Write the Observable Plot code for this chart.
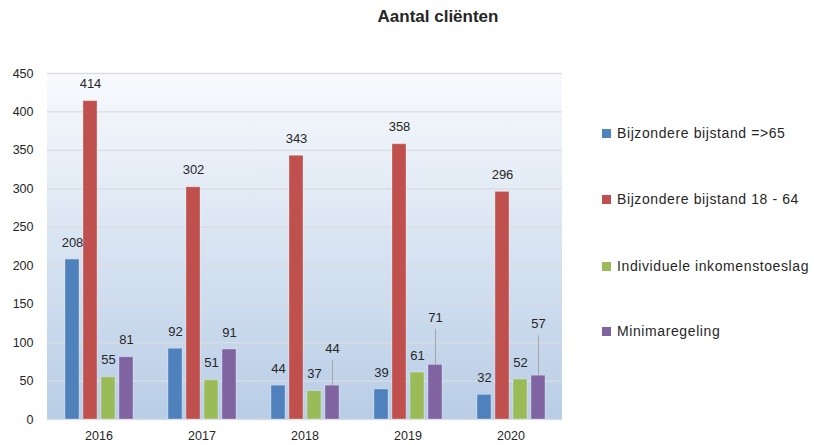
<!DOCTYPE html>
<html>
<head>
<meta charset="utf-8">
<script src="https://cdn.jsdelivr.net/npm/d3@7"></script>
<script src="https://cdn.jsdelivr.net/npm/@observablehq/plot@0.6"></script>
<style>
  body { margin: 0; background: #fff; font-family: "Liberation Sans", Arial, sans-serif; }
  #wrap { position: relative; width: 814px; height: 445px; }
  #title { position: absolute; left: 318px; top: 7px; width: 240px; text-align: center;
           font-weight: bold; font-size: 17px; color: #262626; }
  .legend-item { position: absolute; left: 602px; font-size: 14px; letter-spacing: 0.6px;
                 color: #262626; line-height: 16px; white-space: nowrap; }
  .legend-item span { display: inline-block; width: 9px; height: 9px; margin-right: 6px;
                      vertical-align: 0px; }
  svg { position: absolute; left: 0; top: 0; }
</style>
</head>
<body>
<div id="wrap">
  <div id="title">Aantal cliënten</div>
</div>
<script>
// Aantal cliënten per regeling, 2016–2020
const years = ["2016", "2017", "2018", "2019", "2020"];
const series = [
  "Bijzondere bijstand =>65",
  "Bijzondere bijstand 18 - 64",
  "Individuele inkomenstoeslag",
  "Minimaregeling"
];
const colors = ["#4f81bd", "#c0504d", "#9bbb59", "#8064a2"];

const bijstand65 = [208, 92, 44, 39, 32];
const bijstand18to64 = [414, 302, 343, 358, 296];
const inkomenstoeslag = [55, 51, 37, 61, 52];
const minimaregeling = [81, 91, 44, 71, 57];

const yTicks = [0, 50, 100, 150, 200, 250, 300, 350, 400, 450];

const seriesValues = [bijstand65, bijstand18to64, inkomenstoeslag, minimaregeling];

// Labels that sit higher with a leader line (extra lift in value units)
const labelLift = new Map([
  ["2018|Minimaregeling", 26],
  ["2019|Minimaregeling", 39.5],
  ["2020|Minimaregeling", 45]
]);

const rows = years.flatMap((year, i) =>
  series.map((s, j) => ({
    year,
    series: s,
    value: seriesValues[j][i],
    lift: labelLift.get(`${year}|${s}`) ?? 0
  }))
);
const liftedRows = rows.filter(d => d.lift > 0);

const plot = Plot.plot({
  width: 814,
  height: 445,
  marginLeft: 47,
  marginRight: 252,
  marginTop: 73,
  marginBottom: 26,
  style: {
    fontFamily: '"Liberation Sans", Arial, sans-serif',
    fontSize: "12.5px",
    color: "#262626",
    background: "transparent",
    overflow: "visible"
  },
  fx: { domain: years, padding: 0, label: null, tickSize: 0, tickPadding: 12 },
  x: { domain: series, axis: null, paddingInner: 0.25, paddingOuter: 0.885 },
  y: { domain: [0, 450], ticks: yTicks, tickSize: 0, tickPadding: 14, label: null },
  color: { domain: series, range: colors },
  marks: [
    Plot.ruleY(yTicks, { stroke: "#d9dde3", strokeWidth: 1.3 }),
    Plot.barY(rows, {
      fx: "year", x: "series", y: "value", fill: "series",
      stroke: "white", strokeOpacity: 0.3, strokeWidth: 1
    }),
    Plot.ruleX(liftedRows, {
      fx: "year", x: "series",
      y1: "value", y2: d => d.value + d.lift + 7,
      stroke: "#a6a6a6", strokeWidth: 1
    }),
    Plot.text(rows, {
      fx: "year", x: "series",
      y: d => d.value + d.lift,
      text: d => String(d.value),
      dy: -17, fontSize: 13, fill: "#262626",
      letterSpacing: "0.5px"
    })
  ]
});

// single gradient-filled plotting area behind all facets
const svgSel = d3.select(plot);
const defs = svgSel.insert("defs", ":first-child");
const grad = defs.append("linearGradient")
  .attr("id", "plotBg").attr("x1", 0).attr("y1", 0).attr("x2", 0).attr("y2", 1);
grad.append("stop").attr("offset", "0%").attr("stop-color", "#f8fafd");
grad.append("stop").attr("offset", "100%").attr("stop-color", "#b8cde6");

const [xLeft, xRight] = plot.scale("fx").range;
const [yBottom, yTop] = plot.scale("y").range;
svgSel.insert("rect", "defs + *")
  .attr("x", Math.min(xLeft, xRight))
  .attr("y", Math.min(yTop, yBottom))
  .attr("width", Math.abs(xRight - xLeft))
  .attr("height", Math.abs(yBottom - yTop))
  .attr("fill", "url(#plotBg)");

const wrap = document.getElementById("wrap");
wrap.appendChild(plot);

// legend
const legendY = [125, 191, 258, 323];
series.forEach((s, i) => {
  const item = document.createElement("div");
  item.className = "legend-item";
  item.style.top = legendY[i] + "px";
  const sw = document.createElement("span");
  sw.style.background = colors[i];
  item.appendChild(sw);
  item.appendChild(document.createTextNode(s));
  wrap.appendChild(item);
});
</script>
</body>
</html>
